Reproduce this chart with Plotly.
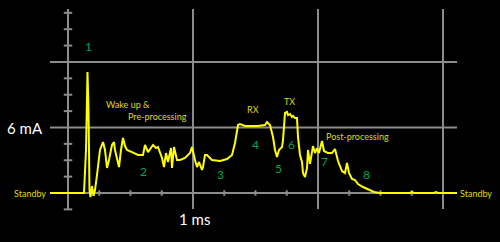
import plotly.graph_objects as go

# Time in ms, current in mA
time_ms = [-0.144, 0.128, 0.144, 0.156, 0.164, 0.172, 0.180, 0.192, 0.204, 0.216,
           0.232, 0.256, 0.280, 0.296, 0.312, 0.328, 0.352, 0.368, 0.376, 0.392,
           0.408, 0.424, 0.440, 0.456, 0.472, 0.512, 0.560, 0.600, 0.616, 0.640,
           0.680, 0.704, 0.720, 0.752, 0.768, 0.784, 0.800, 0.824, 0.832, 0.848,
           0.872, 0.896, 0.936, 0.976, 0.992, 1.016, 1.032, 1.048, 1.072, 1.080,
           1.096, 1.112, 1.152, 1.216, 1.272, 1.312, 1.336, 1.360, 1.376, 1.416,
           1.520, 1.576, 1.592, 1.616, 1.640, 1.656, 1.672, 1.688, 1.712, 1.720,
           1.736, 1.752, 1.760, 1.776, 1.792, 1.800, 1.816, 1.832, 1.840, 1.856,
           1.872, 1.880, 1.896, 1.912, 1.920, 1.936, 1.960, 1.976, 1.992, 2.008,
           2.032, 2.048, 2.080, 2.112, 2.136, 2.160, 2.192, 2.216, 2.232, 2.248,
           2.272, 2.296, 2.320, 2.360, 2.392, 2.416, 2.448, 2.496, 2.736, 2.752,
           2.768, 2.928, 2.944, 2.960, 3.112]
current_ma = [0.00, 0.00, 3.94, 11.08, 7.60, 0.27, -0.37, 0.64, -0.27, 0.27,
              1.65, 3.94, 4.67, 3.94, 2.29, 3.02, 4.40, 4.67, 3.94, 3.02,
              2.38, 3.94, 5.04, 4.30, 3.94, 3.75, 3.48, 3.48, 4.40, 3.75,
              4.40, 4.12, 4.21, 3.21, 2.38, 3.66, 2.84, 4.12, 2.29, 4.21,
              3.02, 3.02, 3.21, 3.66, 4.21, 3.02, 2.38, 2.84, 2.11, 2.38,
              3.48, 3.48, 3.02, 2.93, 3.11, 3.48, 4.58, 6.23, 6.32, 6.14,
              6.14, 6.23, 6.50, 6.23, 5.13, 3.94, 3.30, 3.94, 4.21, 4.85,
              7.33, 7.42, 7.14, 7.23, 6.96, 7.05, 6.87, 6.87, 5.13, 3.48,
              2.84, 1.83, 1.47, 2.29, 3.94, 2.66, 4.30, 3.66, 4.12, 3.66,
              4.76, 3.85, 3.66, 3.66, 4.03, 2.93, 2.01, 1.83, 2.75, 1.83,
              1.28, 1.19, 0.82, 0.55, 0.37, 0.27, 0.09, 0.00, 0.00, 0.09,
              0.00, 0.00, 0.09, 0.00, 0.00]

phase_labels = ["1", "2", "3", "4", "5", "6", "7", "8"]
phase_x = [0.16, 0.60, 1.216, 1.496, 1.68, 1.784, 2.048, 2.384]
phase_y = [13.46, 2.01, 1.65, 4.40, 2.20, 4.40, 2.84, 1.74]

desc_labels = ["Wake up &", "Pre-processing", "RX", "TX", "Post-processing"]
desc_x = [0.48, 0.712, 1.48, 1.768, 2.316]
desc_y = [8.06, 7.05, 7.69, 8.42, 5.22]

major_x = [0, 1, 2, 3]
major_y = [0, 6, 12]
minor_y = [-1.5, 1.5, 3, 4.5, 7.5, 9, 10.5, 13.5, 15, 16.5]
minor_x = [0.25, 0.5, 0.75, 1.25, 1.5, 1.75, 2.25, 2.5, 2.75]

GRID = "#8c8c8c"
YEL = "#ffff00"
GREEN = "#00a651"
FONT = "Lato"

fig = go.Figure()

shapes = []
for xv in major_x:
    shapes.append(dict(type="line", x0=xv, x1=xv, y0=-1.47, y1=16.85,
                       line=dict(color=GRID, width=2), layer="below"))
for yv in major_y:
    shapes.append(dict(type="line", x0=-0.144, x1=3.112, y0=yv, y1=yv,
                       line=dict(color=GRID, width=2), layer="below"))
for yv in minor_y:
    shapes.append(dict(type="line", x0=-0.034, x1=0.034, y0=yv, y1=yv,
                       line=dict(color=GRID, width=2), layer="below"))
for xv in minor_x:
    shapes.append(dict(type="line", x0=xv, x1=xv, y0=-0.25, y1=0.25,
                       line=dict(color=GRID, width=2), layer="below"))

fig.add_trace(go.Scatter(x=time_ms, y=current_ma, mode="lines",
                         line=dict(color=YEL, width=2), hoverinfo="skip"))

annotations = []
for t, xv, yv in zip(phase_labels, phase_x, phase_y):
    annotations.append(dict(x=xv, y=yv, text=t, showarrow=False,
                            font=dict(family=FONT, size=12, color=GREEN)))
for t, xv, yv in zip(desc_labels, desc_x, desc_y):
    annotations.append(dict(x=xv, y=yv, text=t, showarrow=False,
                            font=dict(family=FONT, size=9, color="#dede00")))
annotations.append(dict(x=-0.344, y=5.95, text="6 mA", showarrow=False,
                        font=dict(family=FONT, size=15, color="white")))
annotations.append(dict(x=1.008, y=-2.38, text="1 ms", showarrow=False,
                        font=dict(family=FONT, size=15, color="white")))
annotations.append(dict(x=-0.304, y=0, text="Standby", showarrow=False,
                        font=dict(family=FONT, size=9, color="#dede00")))
annotations.append(dict(x=3.264, y=0, text="Standby", showarrow=False,
                        font=dict(family=FONT, size=9, color="#dede00")))

fig.update_layout(
    width=500, height=242,
    margin=dict(l=0, r=0, t=0, b=0),
    paper_bgcolor="black", plot_bgcolor="black",
    showlegend=False,
    shapes=shapes, annotations=annotations,
    xaxis=dict(range=[-0.544, 3.456], visible=False, fixedrange=True),
    yaxis=dict(range=[-4.487, 17.674], visible=False, fixedrange=True),
)

fig.write_html("out.html")
